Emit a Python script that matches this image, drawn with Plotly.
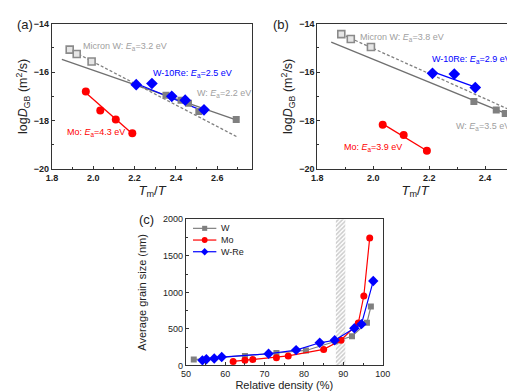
import plotly.graph_objects as go

W_PX, H_PX = 515, 391

# ---------------- Panel (a) data ----------------
a_micron_x = [1.886, 1.92, 1.992]
a_micron_y = [-15.07, -15.25, -15.56]
a_micron_fit_x = [1.886, 2.695]
a_micron_fit_y = [-15.07, -18.67]
a_w_x = [2.352, 2.425, 2.461, 2.511, 2.692]
a_w_y = [-16.96, -17.16, -17.29, -17.63, -17.96]
a_w_fit_x = [1.848, 2.695]
a_w_fit_y = [-15.47, -17.98]
a_re_x = [2.208, 2.284, 2.38, 2.445, 2.536]
a_re_y = [-16.52, -16.47, -17.0, -17.16, -17.56]
a_re_fit_x = [2.208, 2.536]
a_re_fit_y = [-16.47, -17.62]
a_mo_x = [1.964, 2.034, 2.109, 2.189]
a_mo_y = [-16.8, -17.59, -17.96, -18.53]
a_mo_fit_x = [1.964, 2.189]
a_mo_fit_y = [-16.85, -18.55]

# ---------------- Panel (b) data ----------------
b_micron_x = [1.886, 1.92, 1.992]
b_micron_y = [-14.43, -14.63, -14.96]
b_micron_fit_x = [1.886, 2.5]
b_micron_fit_y = [-14.43, -17.62]
b_w_x = [2.36, 2.44, 2.472]
b_w_y = [-17.21, -17.57, -17.71]
b_w_fit_x = [1.85, 2.5]
b_w_fit_y = [-14.76, -17.83]
b_re_x = [2.212, 2.29, 2.365]
b_re_y = [-16.05, -16.08, -16.64]
b_re_fit_x = [2.212, 2.365]
b_re_fit_y = [-15.98, -16.62]
b_mo_x = [2.034, 2.109, 2.192]
b_mo_y = [-18.17, -18.6, -19.25]
b_mo_fit_x = [2.034, 2.192]
b_mo_fit_y = [-18.14, -19.25]

# ---------------- Panel (c) data ----------------
c_w_x = [52, 65, 73, 80.5, 88, 92.2, 96, 97]
c_w_y = [80, 130, 170, 205, 330, 400, 585, 805]
c_mo_x = [62, 65, 67, 73, 76, 85, 89.4, 93.8, 95.2, 96.7]
c_mo_y = [55, 70, 80, 105, 130, 220, 345, 580, 950, 1745]
c_re_x = [54.2, 55.2, 57.2, 59.1, 71, 78, 84, 87.8, 92.8, 94.6, 97.6]
c_re_y = [70, 85, 95, 115, 160, 210, 310, 345, 510, 565, 1155]
c_band_x = [88.1, 90.5]
c_legend_names = ["W", "Mo", "W-Re"]

GRAY = "#808080"
RED = "#ff0000"
BLUE = "#0000ff"
FONT = "Liberation Sans, Arial, sans-serif"


def px(x):
    return x / W_PX


def py(y):
    return 1 - y / H_PX


fig = go.Figure()


def add_line(x, y, color, xa, ya, dash="solid", width=1.3):
    fig.add_trace(go.Scatter(x=x, y=y, mode="lines", line=dict(color=color, width=width, dash=dash),
                             xaxis=xa, yaxis=ya, showlegend=False, hoverinfo="skip"))


def add_pts(x, y, color, symbol, size, xa, ya, fill=None, lw=0):
    fig.add_trace(go.Scatter(x=x, y=y, mode="markers",
                             marker=dict(color=fill or color, symbol=symbol, size=size,
                                         line=dict(color=color, width=lw)),
                             xaxis=xa, yaxis=ya, showlegend=False))


for (xa, ya, mx, my, mfx, mfy, wx, wy, wfx, wfy, rx, ry, rfx, rfy, ox, oy, ofx, ofy) in [
    ("x", "y", a_micron_x, a_micron_y, a_micron_fit_x, a_micron_fit_y, a_w_x, a_w_y, a_w_fit_x, a_w_fit_y,
     a_re_x, a_re_y, a_re_fit_x, a_re_fit_y, a_mo_x, a_mo_y, a_mo_fit_x, a_mo_fit_y),
    ("x2", "y2", b_micron_x, b_micron_y, b_micron_fit_x, b_micron_fit_y, b_w_x, b_w_y, b_w_fit_x, b_w_fit_y,
     b_re_x, b_re_y, b_re_fit_x, b_re_fit_y, b_mo_x, b_mo_y, b_mo_fit_x, b_mo_fit_y),
]:
    add_line(mfx, mfy, "#808080", xa, ya, dash="3px,2px", width=1.3)
    add_line(wfx, wfy, "#707070", xa, ya, width=1.3)
    add_line(rfx, rfy, BLUE, xa, ya, width=1.3)
    add_line(ofx, ofy, RED, xa, ya, width=1.3)
    add_pts(mx, my, "#8a8a8a", "square", 7, xa, ya, fill="#e6e6e6", lw=1.6)
    add_pts(wx, wy, GRAY, "square", 7, xa, ya)
    add_pts(rx, ry, BLUE, "diamond", 9, xa, ya)
    add_pts(ox, oy, RED, "circle", 8, xa, ya)

# Panel (c): hatched band
fig.add_trace(go.Scatter(x=[c_band_x[0], c_band_x[1], c_band_x[1], c_band_x[0], c_band_x[0]],
                         y=[0, 0, 2000, 2000, 0], mode="lines", line=dict(width=0),
                         fill="toself", fillcolor="rgba(255,255,255,0)",
                         fillpattern=dict(shape="/", fgcolor="#999999", bgcolor="rgba(255,255,255,0)",
                                          size=3, solidity=0.5),
                         xaxis="x3", yaxis="y3", showlegend=False, hoverinfo="skip"))
c_series = [
    (c_w_x, c_w_y, GRAY, "square", 6),
    (c_mo_x, c_mo_y, RED, "circle", 7),
    (c_re_x, c_re_y, BLUE, "diamond", 8),
]
for (x, y, col, sym, sz), name in zip(c_series, c_legend_names):
    fig.add_trace(go.Scatter(x=x, y=y, mode="lines+markers", name=name, showlegend=False,
                             line=dict(color=col, width=1.2), marker=dict(symbol=sym, size=sz, color=col),
                             xaxis="x3", yaxis="y3"))

# Custom compact legend for panel (c) (drawn in paper space)
for i, ((x, y, col, sym, sz), name) in enumerate(zip(c_series, c_legend_names)):
    ly = 221 + 12 * i
    fig.add_shape(type="line", xref="paper", yref="paper", x0=px(184), x1=px(208), y0=py(ly), y1=py(ly),
                  line=dict(color=col, width=1.2))
    cx, cy, r = 196, ly, 2.6
    if sym == "square":
        fig.add_shape(type="rect", xref="paper", yref="paper", x0=px(cx - r), x1=px(cx + r),
                      y0=py(cy + r), y1=py(cy - r), fillcolor=col, line=dict(width=0))
    elif sym == "circle":
        fig.add_shape(type="circle", xref="paper", yref="paper", x0=px(cx - 3), x1=px(cx + 3),
                      y0=py(cy + 3), y1=py(cy - 3), fillcolor=col, line=dict(width=0))
    else:
        d = 3.8
        path = (f"M {px(cx - d)} {py(cy)} L {px(cx)} {py(cy - d)} L {px(cx + d)} {py(cy)} "
                f"L {px(cx)} {py(cy + d)} Z")
        fig.add_shape(type="path", xref="paper", yref="paper", path=path, fillcolor=col, line=dict(width=0))
    fig.add_annotation(text=name, x=px(211), y=py(ly), xref="paper", yref="paper", showarrow=False,
                       xanchor="left", yanchor="middle", font=dict(family=FONT, size=9, color="#222"))

axis_common = dict(showline=True, linecolor="#333", linewidth=1, mirror=True, ticks="inside",
                   ticklen=3, tickcolor="#333", showgrid=False, zeroline=False,
                   tickfont=dict(family=FONT, size=9, color="#222"))
bold_tick = dict(family=FONT, size=9, color="#222", weight="bold")
xtitle = "<i>T</i><sub>m</sub>/<i>T</i>"
ytitle = "log<i>D</i><sub>GB</sub> (m<sup>2</sup>/s)"

fig.update_layout(
    width=W_PX, height=H_PX, margin=dict(l=0, r=0, t=0, b=0),
    paper_bgcolor="white", plot_bgcolor="white",
    font=dict(family=FONT, color="#222"),
    showlegend=False,
    xaxis=dict(axis_common, domain=[px(39), px(245)], range=[1.8, 2.77], dtick=0.2, tickformat=".1f",
               tickfont=bold_tick,
               minor=dict(dtick=0.1, ticks="inside", ticklen=2, tickcolor="#333"),
               title=dict(text=xtitle, font=dict(size=13), standoff=0), anchor="y"),
    yaxis=dict(axis_common, domain=[py(160), py(11)], range=[-20, -14], dtick=2, tickfont=bold_tick,
               minor=dict(dtick=1, ticks="inside", ticklen=2, tickcolor="#333"),
               title=dict(text=ytitle, font=dict(size=12.5), standoff=3), anchor="x"),
    xaxis2=dict(axis_common, domain=[px(311.7), px(513)], range=[1.8, 2.5], dtick=0.2, tickformat=".1f",
                tickfont=bold_tick,
                minor=dict(dtick=0.1, ticks="inside", ticklen=2, tickcolor="#333"),
                title=dict(text=xtitle, font=dict(size=13), standoff=0), anchor="y2"),
    yaxis2=dict(axis_common, domain=[py(160), py(11)], range=[-20, -14], dtick=2, tickfont=bold_tick,
                minor=dict(dtick=1, ticks="inside", ticklen=2, tickcolor="#333"),
                title=dict(text=ytitle, font=dict(size=12.5), standoff=3), anchor="x2"),
    xaxis3=dict(axis_common, domain=[px(176.7), px(379)], range=[50, 100], dtick=10,
                minor=dict(dtick=5, ticks="inside", ticklen=2, tickcolor="#333"),
                title=dict(text="Relative density (%)", font=dict(size=11), standoff=3), anchor="y3"),
    yaxis3=dict(axis_common, domain=[py(361.7), py(211.7)], range=[0, 2000], dtick=500,
                minor=dict(dtick=250, ticks="inside", ticklen=2, tickcolor="#333"),
                title=dict(text="Average grain size (nm)", font=dict(size=11), standoff=14), anchor="x3"),
)


def ann(text, x, y, color, size=9, xanchor="left"):
    fig.add_annotation(text=text, x=px(x), y=py(y), xref="paper", yref="paper", showarrow=False,
                       xanchor=xanchor, yanchor="middle", font=dict(family=FONT, size=size, color=color))


ann("Micron W: <i>E</i><sub>a</sub>=3.2 eV", 69, 34, "#a0a0a0")
ann("W-10Re: <i>E</i><sub>a</sub>=2.5 eV", 141, 62, BLUE)
ann("W: <i>E</i><sub>a</sub>=2.2 eV", 186, 83, "#a0a0a0")
ann("Mo: <i>E</i><sub>a</sub>=4.3 eV", 52, 123, RED)
ann("Micron W: <i>E</i><sub>a</sub>=3.8 eV", 354, 25, "#a0a0a0")
ann("W-10Re: <i>E</i><sub>a</sub>=2.9 eV", 513, 48, BLUE, xanchor="right")
ann("W: <i>E</i><sub>a</sub>=3.5 eV", 452, 116, "#a0a0a0")
ann("Mo: <i>E</i><sub>a</sub>=3.9 eV", 337, 138, RED)
ann("(a)", 1, 12, "#222", size=13)
ann("(b)", 264, 12, "#222", size=13)
ann("(c)", 126, 212, "#222", size=13)

fig.write_html("out.html")
